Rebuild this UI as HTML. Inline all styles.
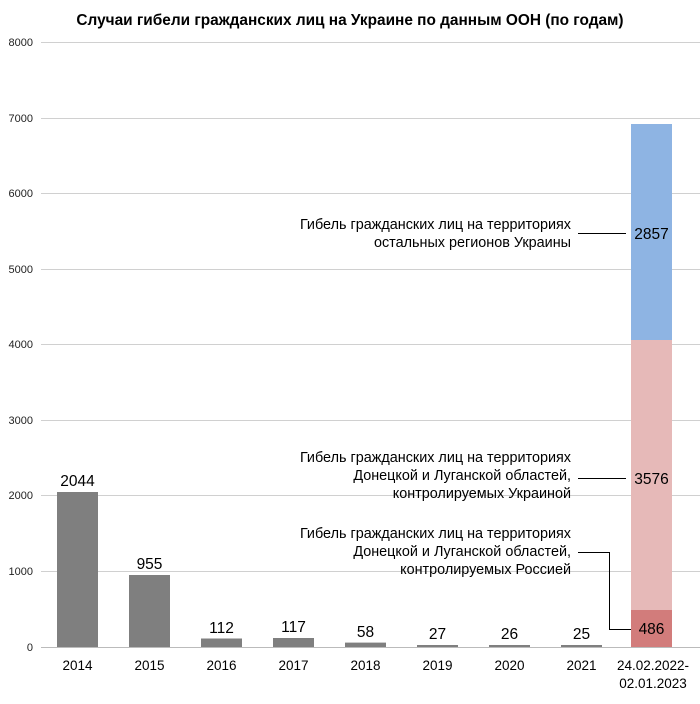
<!DOCTYPE html>
<html><head><meta charset="utf-8"><style>
body{margin:0;background:#fff;}
svg text{font-family:"Liberation Sans",sans-serif;}
</style></head><body>
<svg width="700" height="699" xmlns="http://www.w3.org/2000/svg">
<text x="350" y="25" font-size="15.4" font-weight="bold" text-anchor="middle" fill="#000">Случаи гибели гражданских лиц на Украине по данным ООН (по годам)</text>
<g stroke="#d0d0d0" stroke-width="1">
<line x1="41" y1="42.5" x2="700" y2="42.5"/>
<line x1="41" y1="118.5" x2="700" y2="118.5"/>
<line x1="41" y1="193.5" x2="700" y2="193.5"/>
<line x1="41" y1="269.5" x2="700" y2="269.5"/>
<line x1="41" y1="344.5" x2="700" y2="344.5"/>
<line x1="41" y1="420.5" x2="700" y2="420.5"/>
<line x1="41" y1="495.5" x2="700" y2="495.5"/>
<line x1="41" y1="571.5" x2="700" y2="571.5"/>
</g>
<g font-size="11" fill="#222" text-anchor="end">
<text x="33" y="46">8000</text><text x="33" y="122">7000</text><text x="33" y="197">6000</text>
<text x="33" y="273">5000</text><text x="33" y="348">4000</text><text x="33" y="424">3000</text>
<text x="33" y="499">2000</text><text x="33" y="575">1000</text><text x="33" y="651">0</text>
</g>
<g fill="#7f7f7f">
<rect x="57" y="492" width="41" height="155"/>
<rect x="129" y="575" width="41" height="72"/>
<rect x="201" y="638.5" width="41" height="8.5"/>
<rect x="273" y="638" width="41" height="9"/>
<rect x="345" y="642.6" width="41" height="4.4"/>
<rect x="417" y="645" width="41" height="2"/>
<rect x="489" y="645" width="41" height="2"/>
<rect x="561" y="645" width="41" height="2"/>
</g>
<rect x="631" y="124" width="41" height="216" fill="#8eb4e3"/>
<rect x="631" y="340" width="41" height="270" fill="#e6b9b8"/>
<rect x="631" y="610" width="41" height="37" fill="#d27c7b"/>
<line x1="41" y1="647.5" x2="700" y2="647.5" stroke="#bbb"/>
<g font-size="15.5" fill="#000" text-anchor="middle">
<text x="77.5" y="486">2044</text><text x="149.5" y="569">955</text><text x="221.5" y="633">112</text>
<text x="293.5" y="632">117</text><text x="365.5" y="637">58</text><text x="437.5" y="639">27</text>
<text x="509.5" y="639">26</text><text x="581.5" y="639">25</text>
<text x="651.5" y="239">2857</text><text x="651.5" y="484">3576</text><text x="651.5" y="634">486</text>
</g>
<g font-size="13.5" fill="#000" text-anchor="middle">
<text x="77.5" y="670">2014</text><text x="149.5" y="670">2015</text><text x="221.5" y="670">2016</text>
<text x="293.5" y="670">2017</text><text x="365.5" y="670">2018</text><text x="437.5" y="670">2019</text>
<text x="509.5" y="670">2020</text><text x="581.5" y="670">2021</text>
<text x="653" y="670">24.02.2022-</text><text x="653" y="688">02.01.2023</text>
</g>
<g font-size="14.4" fill="#000" text-anchor="end">
<text x="571" y="229">Гибель гражданских лиц на территориях</text>
<text x="571" y="247">остальных регионов Украины</text>
<text x="571" y="462">Гибель гражданских лиц на территориях</text>
<text x="571" y="480">Донецкой и Луганской областей,</text>
<text x="571" y="498">контролируемых Украиной</text>
<text x="571" y="538">Гибель гражданских лиц на территориях</text>
<text x="571" y="556">Донецкой и Луганской областей,</text>
<text x="571" y="574">контролируемых Россией</text>
</g>
<g stroke="#000" stroke-width="1" fill="none">
<line x1="578" y1="233.5" x2="626" y2="233.5"/>
<line x1="578" y1="478.5" x2="626" y2="478.5"/>
<polyline points="578,552.5 609.5,552.5 609.5,629.5 631,629.5"/>
</g>
</svg>
</body></html>
